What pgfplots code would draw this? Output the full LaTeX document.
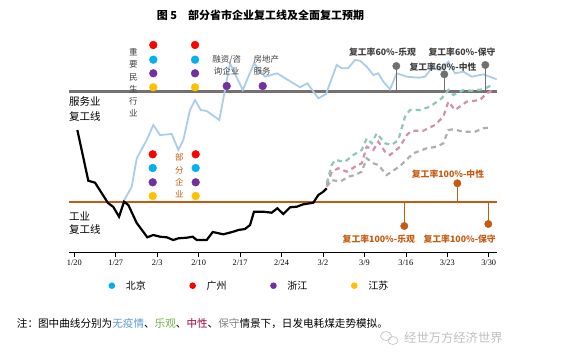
\documentclass[border=0pt]{standalone}
\usepackage{pgfplots}
\pgfplotsset{compat=1.18}
\usepackage{fontspec}
\setmainfont{Noto Sans CJK SC}
\newfontfamily\tnr{Liberation Serif}
\definecolor{bluel}{RGB}{170,205,235}
\definecolor{greend}{RGB}{140,200,178}
\definecolor{pinkd}{RGB}{212,145,165}
\definecolor{grayd}{RGB}{172,174,180}
\definecolor{servg}{RGB}{118,113,113}
\definecolor{indo}{RGB}{197,90,17}
\definecolor{ping}{RGB}{112,112,112}
\definecolor{labg}{RGB}{64,64,64}
\definecolor{cyanc}{RGB}{0,176,240}
\definecolor{redc}{RGB}{255,0,0}
\definecolor{purc}{RGB}{112,48,160}
\definecolor{yelc}{RGB}{255,192,0}
\definecolor{notb}{RGB}{91,155,213}
\definecolor{notg}{RGB}{112,173,71}
\definecolor{notr}{RGB}{160,0,60}
\definecolor{notgy}{RGB}{128,128,128}
\begin{document}
\begin{tikzpicture}
\useasboundingbox (0pt,0pt) rectangle (577pt,362pt);
\begin{axis}[
  scale only axis, width=428pt, height=215pt,
  at={(69pt,109.5pt)}, anchor=south west,
  xmin=-0.9, xmax=71.4, ymin=0, ymax=215,
  axis x line*=bottom, axis y line=none,
  x axis line style={black, line width=0.8pt},
  xtick={0,7,14,21,28,35,42,49,56,63,70},
  xticklabels={1/20,1/27,2/3,2/10,2/17,2/24,3/2,3/9,3/16,3/23,3/30},
  xticklabel style={font=\tnr\fontsize{8.3}{9}\selectfont, text=black},
  tick align=outside, major tick length=4pt,
  tick style={black, line width=0.6pt},
  clip=false,
  legend style={at={(0.4215,-0.1544)}, anchor=center, draw=none, fill=none,
    legend columns=4, font=\fontsize{10}{12}\selectfont,
    /tikz/every even column/.append style={column sep=41.5pt}},
]
% reference lines
\addplot[servg, line width=2.8pt, forget plot] coordinates {(-0.9,160.8) (71.4,160.8)};
\addplot[indo, line width=2.8pt, forget plot] coordinates {(-0.9,50.5) (71.4,50.5)};
% blue: no epidemic
\addplot[bluel, line width=1.8pt, forget plot] coordinates {
(8.28,50.8) (9.70,65.8) (10.54,94.2) (12.23,112.5) (13.34,127.5) (14.48,117.5)
(16.45,118.5) (17.57,102.5) (18.41,112.5) (19.54,142.5) (20.39,152.5) (21.35,142.5)
(22.36,141.5) (24.49,132.5) (26.30,189.2) (28.45,162.5) (30.35,189.2) (32.21,175.8)
(34.24,179.2) (38.13,165.2) (39.36,169.2) (41.22,154.2) (42.52,158.5) (44.32,187.5)
(45.17,184.2) (46.23,184.2) (47.42,192.5) (48.26,191.8) (49.39,185.8) (50.51,177.5)
(51.35,179.2) (52.20,170.8) (53.33,163.2) (54.46,179.2) (56.15,175.8) (58.11,174.8)
(59.24,175.8) (60.37,184.5) (61.77,182.5) (63.18,190.8) (64.31,179.2) (65.71,180.8)
(67.13,175.8) (69.09,178.2) (71.35,173.2)};
% black: actual
\addplot[black, line width=2.2pt, forget plot] coordinates {
(0.51,122.5) (2.36,71.8) (3.50,69.8) (5.69,49.5) (6.59,45.5) (7.55,35.8) (8.40,50.8)
(9.12,47.5) (10.54,29.5) (12.33,15.2) (13.34,17.5) (14.48,15.8) (15.61,15.2) (16.72,12.5)
(17.57,14.2) (18.99,14.8) (20.0,15.8) (20.68,12.5) (22.36,12.5) (23.38,20.5) (25.17,18.2)
(26.86,20.8) (27.70,22.5) (28.83,23.5) (29.68,27.5) (30.35,40.8) (31.93,40.8) (33.34,39.8)
(34.29,44.2) (35.30,38.5) (36.44,45.2) (37.57,45.8) (38.68,48.2) (40.37,49.8) (41.22,57.5)
(42.06,60.8) (42.64,64.2)};
% dashed scenarios
\addplot[grayd, line width=2.2pt, dash pattern=on 5pt off 4pt, forget plot] coordinates {
(42.64,65.8) (43.48,72.5) (44.88,70.8) (46.28,75.8) (47.42,77.5) (48.55,80.8) (49.39,94.2)
(50.51,89.2) (51.35,87.5) (52.77,77.5) (53.61,80.8) (55.02,86.5) (57.26,99.2) (59.53,104.2)
(61.22,105.8) (62.33,109.2) (63.18,122.5) (64.02,123.2) (65.71,120.8) (67.70,120.8)
(69.09,124.2) (70.51,125.2)};
\addplot[pinkd, line width=2.2pt, dash pattern=on 5pt off 4pt, forget plot] coordinates {
(42.64,67.5) (43.48,80.8) (44.59,84.2) (46.01,80.8) (47.42,85.8) (48.55,89.2) (49.39,105.8)
(50.51,102.5) (51.35,110.8) (52.48,100.8) (53.33,97.5) (55.02,105.8) (56.15,117.5)
(56.99,121.8) (58.95,121.8) (60.93,127.5) (62.33,135.8) (63.18,150.8) (64.31,142.5)
(66.28,150.8) (68.53,152.5) (69.66,159.2) (70.78,162.5)};
\addplot[greend, line width=2.2pt, dash pattern=on 5pt off 4pt, forget plot] coordinates {
(42.64,69.2) (43.48,87.5) (44.04,92.5) (45.73,90.8) (47.13,97.5) (48.55,102.5) (49.39,114.2)
(50.24,109.2) (51.08,119.2) (52.48,109.2) (53.61,107.5) (54.73,112.5) (55.86,135.8)
(56.71,142.5) (58.40,142.5) (60.08,145.8) (62.06,154.2) (63.18,162.5) (64.02,157.5)
(65.71,162.5) (67.13,161.8) (69.09,163.2) (70.51,167.5)};
% 60% pins
\addplot[ping, line width=0.8pt, forget plot] coordinates {(54.39,160.8) (54.39,186.5)};
\addplot[ping, line width=0.8pt, forget plot] coordinates {(62.50,160.8) (62.50,178.2)};
\addplot[ping, line width=0.8pt, forget plot] coordinates {(69.43,160.8) (69.43,187.5)};
\addplot[only marks, mark=*, mark size=3.7pt, ping, forget plot] coordinates {(54.39,186.5) (62.50,178.2) (69.43,187.5)};
% 100% pins
\addplot[indo, line width=0.8pt, forget plot] coordinates {(55.74,50.5) (55.74,26.5)};
\addplot[indo, line width=0.8pt, forget plot] coordinates {(64.70,50.5) (64.70,69.2)};
\addplot[indo, line width=0.8pt, forget plot] coordinates {(69.93,50.5) (69.93,28.5)};
\addplot[only marks, mark=*, mark size=3.7pt, indo, forget plot] coordinates {(55.74,26.5) (64.70,69.2) (69.93,28.5)};
% province dots
\addplot[only marks, mark=*, mark size=3.9pt, redc, forget plot] coordinates {(13.34,207.5) (20.39,207.5) (13.24,98.2) (20.5,98.2)};
\addplot[only marks, mark=*, mark size=3.9pt, cyanc, forget plot] coordinates {(13.34,192.8) (20.39,192.8) (13.24,84.5) (20.5,84.5)};
\addplot[only marks, mark=*, mark size=3.9pt, purc, forget plot] coordinates {(13.34,179.2) (20.39,179.2) (13.24,70.2) (20.5,70.2) (25.74,166.5) (31.82,166.5)};
\addplot[only marks, mark=*, mark size=3.9pt, yelc, forget plot] coordinates {(13.34,165.2) (20.39,165.2) (13.24,56.5) (20.5,56.5)};
% legend
\addlegendimage{legend image code/.code={\fill[cyanc, draw=none] (0pt,0pt) circle (3.3pt); \path[draw=none, fill=none] (-3.3pt,-1pt) rectangle (12pt,1pt);}}
\addlegendentry{北京}
\addlegendimage{legend image code/.code={\fill[redc, draw=none] (0pt,0pt) circle (3.3pt); \path[draw=none, fill=none] (-3.3pt,-1pt) rectangle (12pt,1pt);}}
\addlegendentry{广州}
\addlegendimage{legend image code/.code={\fill[purc, draw=none] (0pt,0pt) circle (3.3pt); \path[draw=none, fill=none] (-3.3pt,-1pt) rectangle (12pt,1pt);}}
\addlegendentry{浙江}
\addlegendimage{legend image code/.code={\fill[yelc, draw=none] (0pt,0pt) circle (3.3pt); \path[draw=none, fill=none] (-3.3pt,-1pt) rectangle (12pt,1pt);}}
\addlegendentry{江苏}
\end{axis}
% texts
\node[font=\bfseries\fontsize{11}{12}\selectfont] at (260.5pt,347pt) {图 5\quad 部分省市企业复工线及全面复工预期};
\node[anchor=west, inner sep=0pt, font=\fontsize{10.5}{12}\selectfont] at (69pt,260.3pt) {服务业};
\node[anchor=west, inner sep=0pt, font=\fontsize{10.5}{12}\selectfont] at (69pt,246pt) {复工线};
\node[anchor=west, inner sep=0pt, font=\fontsize{10.5}{12}\selectfont] at (69pt,146pt) {工业};
\node[anchor=west, inner sep=0pt, font=\fontsize{10.5}{12}\selectfont] at (69pt,132.7pt) {复工线};
\node[align=center, inner sep=0pt, text=labg, font=\fontsize{8.5}{12.2}\selectfont] at (133.3pt,279.2pt) {重\\要\\民\\生\\行\\业};
\node[align=center, inner sep=0pt, text=indo, font=\fontsize{8.5}{12.3}\selectfont] at (179.3pt,186.2pt) {部\\分\\企\\业};
\node[inner sep=0pt, text=labg, font=\fontsize{8.5}{10}\selectfont] at (226.7pt,302.7pt) {融资/咨};
\node[inner sep=0pt, text=labg, font=\fontsize{8.5}{10}\selectfont] at (226.7pt,290.7pt) {询企业};
\node[anchor=west, inner sep=0pt, text=labg, font=\fontsize{8.5}{10}\selectfont] at (253.3pt,302.7pt) {房地产};
\node[anchor=west, inner sep=0pt, text=labg, font=\fontsize{8.5}{10}\selectfont] at (253.3pt,290.7pt) {服务};
\node[inner sep=0pt, text=labg, font=\bfseries\fontsize{8.8}{10}\selectfont] at (382.5pt,310.3pt) {复工率60\%-乐观};
\node[inner sep=0pt, text=labg, font=\bfseries\fontsize{8.8}{10}\selectfont] at (462pt,310.3pt) {复工率60\%-保守};
\node[inner sep=0pt, text=labg, font=\bfseries\fontsize{8.8}{10}\selectfont] at (443pt,295.3pt) {复工率60\%-中性};
\node[inner sep=0pt, text=indo, font=\bfseries\fontsize{8.8}{10}\selectfont] at (378.8pt,123pt) {复工率100\%-乐观};
\node[inner sep=0pt, text=indo, font=\bfseries\fontsize{8.8}{10}\selectfont] at (459.7pt,123pt) {复工率100\%-保守};
\node[inner sep=0pt, text=indo, font=\bfseries\fontsize{8.8}{10}\selectfont] at (448pt,188pt) {复工率100\%-中性};
\node[anchor=west, inner sep=0pt, font=\fontsize{10.6}{12}\selectfont] at (16.7pt,38.7pt) {注：图中曲线分别为\textcolor{notb}{无疫情}、\textcolor{notg}{乐观}、\textcolor{notr}{中性}、\textcolor{notgy}{保守}情景下，日发电耗煤走势模拟。};
\draw[gray!45, line width=0.7pt] (386pt,26pt) ellipse (5.5pt and 4.5pt);
\draw[gray!45, line width=0.7pt] (393pt,21.5pt) ellipse (5pt and 4pt);
\node[anchor=west, inner sep=0pt, text=gray!50, font=\fontsize{12.3}{14}\selectfont] at (404pt,23.7pt) {经世万方经济世界};
\end{tikzpicture}
\end{document}
